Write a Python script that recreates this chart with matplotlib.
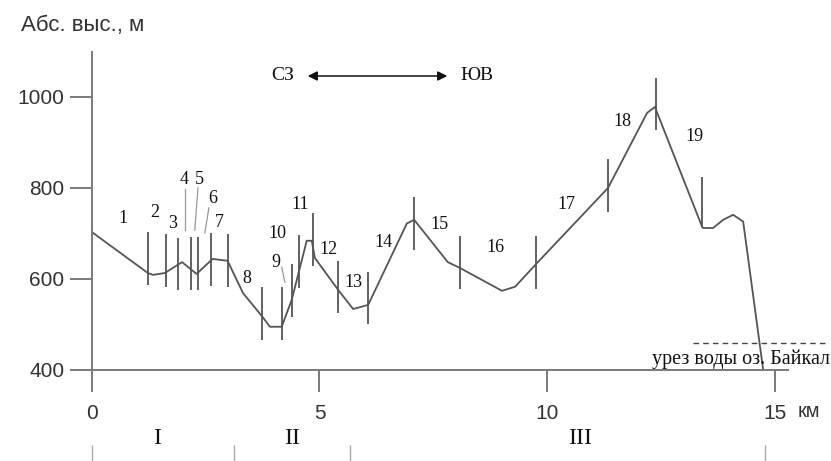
import numpy as np
import matplotlib.pyplot as plt

# профиль рельефа: расстояние (км) и абс. высота (м)
dist = [0.0, 1.23, 1.34, 1.60, 1.98, 2.30, 2.65, 2.98, 3.32, 3.77, 3.91, 4.17, 4.39,
        4.72, 4.83, 4.90, 5.41, 5.74, 6.07, 6.92, 7.08, 7.82, 8.09, 9.01, 9.30, 9.78,
        11.34, 12.20, 12.37, 13.41, 13.43, 13.65, 13.87, 14.09, 14.31, 14.75]
elev = [703, 613, 609, 613, 637, 611, 644, 640, 569, 514, 495, 495, 554,
        684, 684, 646, 576, 534, 543, 722, 730, 637, 624, 574, 583, 635,
        800, 965, 978, 714, 712, 712, 730, 741, 726, 400]

# границы участков (вертикальные штрихи)
bar_x = [1.23, 1.63, 1.89, 2.18, 2.33, 2.62, 2.99, 3.73, 4.18, 4.39, 4.55, 4.86,
         5.41, 6.07, 7.08, 8.09, 9.76, 11.34, 12.40, 13.41]
bar_lo = [587, 582, 576, 576, 576, 585, 582, 466, 466, 516, 580, 629,
          525, 501, 664, 578, 578, 747, 927, 714]
bar_hi = [703, 699, 690, 692, 692, 701, 699, 582, 582, 633, 697, 745,
          640, 615, 780, 695, 695, 864, 1042, 824]

# номера участков
num_labels = [str(i) for i in range(1, 20)]
num_x = [0.68, 1.38, 1.78, 2.02, 2.37, 2.66, 2.80, 3.41, 4.04, 4.08,
         4.57, 5.19, 5.74, 6.40, 7.63, 8.86, 10.43, 11.65, 13.23]
num_y = [733, 747, 721, 818, 818, 776, 723, 602, 637, 699,
         763, 664, 593, 681, 719, 670, 763, 947, 914]

# выноски к номерам 4, 5, 6, 9
lead_x = [(2.04, 2.04), (2.33, 2.26), (2.57, 2.48), (4.17, 4.24)]
lead_y = [(798, 707), (800, 707), (756, 701), (626, 593)]

# зоны
zone_bounds = [0.0, 3.12, 5.67, 14.79]
zone_names = ['I', 'II', 'III']
zone_x = [1.43, 4.40, 10.73]

xticks = [0, 5, 10, 15]
yticks = [400, 600, 800, 1000]

fig = plt.figure(figsize=(8.31, 4.61), dpi=100)
ax = fig.add_axes([0, 0, 1, 1])
ax.set_xlim(-2.02, 16.24)
ax.set_ylim(200, 1213)

gray = '#7a7a7a'
dark = '#555555'
ink = '#111111'
serif = 'Liberation Serif'
sans = 'Liberation Sans'

for s in ['top', 'right']:
    ax.spines[s].set_visible(False)
ax.spines['left'].set_position(('data', 0))
ax.spines['bottom'].set_position(('data', 400))
ax.spines['left'].set_bounds(400, 1099)
ax.spines['bottom'].set_bounds(0, 15.3)
for s in ['left', 'bottom']:
    ax.spines[s].set_color(gray)
    ax.spines[s].set_linewidth(1.4)

ax.set_xticks(xticks)
ax.set_yticks(yticks)
ax.tick_params(axis='both', direction='out', length=15.8, width=1.4, color=gray,
               labelsize=15, labelcolor='#333333')
ax.tick_params(axis='x', pad=9)
ax.tick_params(axis='y', pad=4)
for lab in ax.get_xticklabels() + ax.get_yticklabels():
    lab.set_fontfamily(sans)

ax.plot(dist, elev, color=dark, lw=1.3, solid_joinstyle='round')
ax.vlines(bar_x, bar_lo, bar_hi, color=dark, lw=1.3)

for xs, ys in zip(lead_x, lead_y):
    ax.plot(xs, ys, color='#999999', lw=0.9)

for t, x, y in zip(num_labels, num_x, num_y):
    ax.text(x, y, t, family=serif, fontsize=13, ha='center', va='center', color=ink)

# направление профиля
ax.annotate('', xy=(4.68, 1046), xytext=(7.87, 1046),
            arrowprops=dict(arrowstyle='<|-|>', color=ink, lw=1.1, mutation_scale=14))
ax.text(4.45, 1046, 'СЗ', family=serif, fontsize=14, ha='right', va='center', color=ink)
ax.text(8.1, 1046, 'ЮВ', family=serif, fontsize=14, ha='left', va='center', color=ink)

# урез воды
ax.plot([13.2, 16.2], [459, 459], color='#444444', lw=1.0, ls=(0, (4, 3)))
ax.text(16.22, 423, 'урез воды оз. Байкал', family=serif, fontsize=14.5,
        ha='right', va='center', color=ink)

ax.text(-1.55, 1156, 'Абс. выс., м', family=sans, fontsize=16, ha='left', va='center',
        color='#333333')
ax.text(15.75, 200 + (461 - 412) / 0.455, 'км', family=sans, fontsize=14.5, ha='center',
        va='center', color='#333333')

ax.vlines(zone_bounds, 200, 236, color='#aaaaaa', lw=1.0)
for t, x in zip(zone_names, zone_x):
    ax.text(x, 250, t, family=serif, fontsize=17, ha='center', va='center', color=ink)

fig.savefig('out.png', dpi=100)
